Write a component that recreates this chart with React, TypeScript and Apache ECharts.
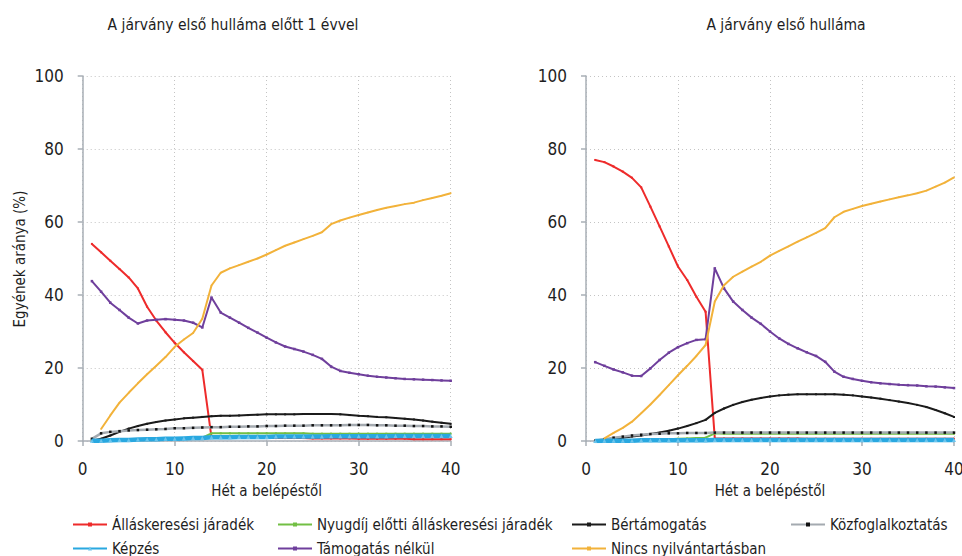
import React, { useEffect, useRef } from "react";
import * as echarts from "echarts";

const FONT = "'Liberation Sans Narrow', 'DejaVu Sans Condensed', sans-serif";

const weeks: number[] = Array.from({ length: 40 }, (_, i) => i + 1);

const seriesNames = [
  "Álláskeresési járadék",
  "Nyugdíj előtti álláskeresési járadék",
  "Bértámogatás",
  "Közfoglalkoztatás",
  "Képzés",
  "Támogatás nélkül",
  "Nincs nyilvántartásban",
];

const panelTitles = ["A járvány első hulláma előtt 1 évvel", "A járvány első hulláma"];
const xTitle = "Hét a belépéstől";
const yTitle = "Egyének aránya (%)";

// ---- Left panel (one year before first wave)
const leftRed = [54.0, 51.7, 49.4, 47.1, 44.8, 41.8, 36.8, 33.0, 29.8, 26.9, 24.3, 21.9, 19.5,
  1.0, 1.0, 0.9, 0.9, 0.9, 0.9, 0.8, 0.8, 0.8, 0.8, 0.8, 0.7, 0.7, 0.7, 0.7, 0.7, 0.6, 0.6, 0.6, 0.6, 0.6, 0.6, 0.5, 0.5, 0.5, 0.5, 0.5];
const leftGreen = [0.0, 0.1, 0.2, 0.3, 0.3, 0.4, 0.5, 0.5, 0.6, 0.7, 0.7, 0.8, 0.9,
  2.1, 2.1, 2.1, 2.1, 2.1, 2.1, 2.1, 2.1, 2.1, 2.1, 2.1, 2.0, 2.0, 2.0, 2.0, 2.0, 2.0, 2.0, 2.0, 2.0, 2.0, 2.0, 2.0, 2.0, 2.0, 2.0, 2.0];
const leftBlack = [0.1, 0.6, 1.5, 2.5, 3.4, 4.1, 4.7, 5.2, 5.6, 5.9, 6.2, 6.4, 6.6, 6.8, 6.9, 6.9, 7.0, 7.1, 7.2, 7.3,
  7.3, 7.3, 7.3, 7.4, 7.4, 7.4, 7.4, 7.3, 7.1, 6.9, 6.8, 6.6, 6.5, 6.3, 6.1, 5.9, 5.6, 5.3, 5.0, 4.7];
const leftGray = [0.6, 2.1, 2.5, 2.7, 2.9, 3.0, 3.1, 3.2, 3.3, 3.5, 3.5, 3.6, 3.7, 3.8, 3.8, 3.9, 3.9, 4.0, 4.0, 4.1,
  4.1, 4.2, 4.2, 4.2, 4.3, 4.3, 4.3, 4.3, 4.4, 4.4, 4.4, 4.3, 4.3, 4.2, 4.2, 4.1, 4.1, 4.0, 4.0, 3.9];
const leftBlue = [0.1, 0.1, 0.2, 0.3, 0.3, 0.4, 0.5, 0.5, 0.6, 0.6, 0.7, 0.8, 0.8, 1.0, 1.0, 1.0, 1.1, 1.1, 1.1, 1.1,
  1.2, 1.2, 1.2, 1.2, 1.2, 1.2, 1.3, 1.3, 1.3, 1.3, 1.3, 1.3, 1.3, 1.4, 1.4, 1.4, 1.4, 1.4, 1.4, 1.4];
const leftPurple = [43.8, 40.9, 37.9, 35.9, 33.8, 32.2, 33.0, 33.2, 33.4, 33.2, 33.0, 32.4, 31.1, 39.3, 35.2, 33.8, 32.4, 31.0, 29.7, 28.3,
  27.0, 25.9, 25.2, 24.5, 23.6, 22.5, 20.4, 19.2, 18.7, 18.3, 17.9, 17.6, 17.4, 17.2, 17.0, 16.9, 16.8, 16.7, 16.6, 16.5];
const leftYellow = [null, 3.3, 7.0, 10.5, 13.2, 15.8, 18.3, 20.6, 23.0, 25.8, 27.8, 29.6, 33.5, 42.6, 46.1, 47.3, 48.2, 49.1, 50.0, 51.1,
  52.3, 53.5, 54.4, 55.3, 56.2, 57.2, 59.4, 60.4, 61.2, 61.9, 62.6, 63.3, 63.9, 64.4, 64.9, 65.3, 66.0, 66.6, 67.2, 67.9];

// ---- Right panel (first wave)
const rightRed = [77.0, 76.4, 75.2, 73.8, 72.1, 69.5, 64.2, 58.8, 53.3, 47.8, 44.1, 39.5, 35.4,
  0.7, 0.7, 0.7, 0.7, 0.7, 0.7, 0.7, 0.7, 0.7, 0.7, 0.6, 0.6, 0.6, 0.6, 0.6, 0.6, 0.6, 0.6, 0.6, 0.6, 0.6, 0.6, 0.6, 0.6, 0.6, 0.6, 0.6];
const rightGreen = [0.0, 0.1, 0.1, 0.2, 0.3, 0.3, 0.4, 0.5, 0.5, 0.6, 0.7, 0.8, 0.9,
  2.1, 2.0, 2.0, 2.0, 2.0, 2.0, 2.0, 2.0, 2.0, 2.0, 2.0, 2.0, 2.0, 2.0, 2.0, 2.0, 2.0, 2.0, 2.0, 2.0, 2.0, 2.0, 2.0, 2.0, 2.0, 2.0, 2.0];
const rightBlack = [0.0, 0.3, 0.6, 0.9, 1.2, 1.5, 1.9, 2.3, 2.8, 3.4, 4.1, 4.9, 5.8, 7.7, 8.9, 9.9, 10.7, 11.3, 11.8, 12.2,
  12.5, 12.7, 12.8, 12.8, 12.8, 12.8, 12.8, 12.7, 12.5, 12.2, 11.9, 11.6, 11.2, 10.8, 10.4, 9.9, 9.3, 8.5, 7.6, 6.6];
const rightGray = [0.1, 0.5, 0.9, 1.2, 1.5, 1.7, 1.9, 2.0, 2.1, 2.1, 2.2, 2.2, 2.2, 2.3, 2.3, 2.3, 2.3, 2.3, 2.3, 2.3,
  2.3, 2.3, 2.3, 2.3, 2.3, 2.3, 2.3, 2.3, 2.3, 2.3, 2.3, 2.3, 2.3, 2.3, 2.3, 2.3, 2.3, 2.3, 2.3, 2.3];
const rightBlue = [0.0, 0.1, 0.1, 0.1, 0.1, 0.2, 0.2, 0.2, 0.2, 0.2, 0.2, 0.2, 0.2, 0.3, 0.3, 0.3, 0.3, 0.3, 0.3, 0.3,
  0.3, 0.3, 0.3, 0.3, 0.3, 0.3, 0.3, 0.3, 0.3, 0.3, 0.3, 0.3, 0.3, 0.3, 0.3, 0.3, 0.3, 0.3, 0.3, 0.3];
const rightPurple = [21.6, 20.6, 19.6, 18.8, 17.9, 17.8, 19.9, 22.2, 24.2, 25.7, 26.8, 27.7, 27.9, 47.3, 41.8, 38.2, 35.9, 33.8, 32.1, 30.0,
  28.1, 26.6, 25.4, 24.3, 23.3, 21.7, 19.0, 17.6, 17.0, 16.5, 16.1, 15.8, 15.6, 15.4, 15.3, 15.2, 15.0, 14.9, 14.7, 14.5];
const rightYellow = [null, 0.7, 2.2, 3.6, 5.3, 7.6, 10.0, 12.6, 15.3, 18.0, 20.6, 23.3, 26.3, 38.2, 42.7, 45.0, 46.4, 47.8, 49.1, 50.8,
  52.1, 53.3, 54.6, 55.8, 57.0, 58.3, 61.3, 62.8, 63.6, 64.4, 65.0, 65.6, 66.2, 66.8, 67.3, 67.9, 68.6, 69.7, 70.8, 72.2];

const leftData = [leftRed, leftGreen, leftBlack, leftGray, leftBlue, leftPurple, leftYellow];
const rightData = [rightRed, rightGreen, rightBlack, rightGray, rightBlue, rightPurple, rightYellow];

const styles = [
  { color: "#ee2b2b", width: 2, symbol: "rect", size: 2, symColor: "#ee2b2b" },
  { color: "#72bf44", width: 2, symbol: "rect", size: 2, symColor: "#72bf44" },
  { color: "#1b1b1b", width: 2, symbol: "rect", size: 2, symColor: "#1b1b1b" },
  { color: "#a4aab0", width: 2.5, symbol: "rect", size: 2.5, symColor: "#111111" },
  { color: "#29a8e0", width: 4.5, symbol: "triangle", size: 4, symColor: "#6cc4ec" },
  { color: "#6f3f9c", width: 2, symbol: "rect", size: 2.5, symColor: "#6f3f9c" },
  { color: "#f2b23a", width: 2, symbol: "rect", size: 1.5, symColor: "#f2b23a" },
];

// legend placement: [series index, left, row]
const legendSlots: [number, number, number][] = [
  [0, 67, 0], [1, 272, 0], [2, 566, 0], [3, 785, 0],
  [4, 67, 1], [5, 272, 1], [6, 566, 1],
];

const TEXT = "#1e1e1e";
const AXIS = "#a9afb6";

function buildOption() {
  const grids = [
    { left: 82.7, top: 76, width: 368, height: 365, outerBoundsMode: "none" },
    { left: 586, top: 76, width: 368, height: 365, outerBoundsMode: "none" },
  ];
  const xAxes = [0, 1].map((g) => ({
    type: "value",
    gridIndex: g,
    min: 0,
    max: 40,
    interval: 10,
    offset: 11,
    axisLine: { show: true, lineStyle: { color: AXIS, width: 1.5 } },
    axisTick: { show: true, length: 5, lineStyle: { color: AXIS, width: 1.5 } },
    axisLabel: { fontSize: 17, color: TEXT, margin: 8, fontFamily: FONT },
    splitLine: { show: true, lineStyle: { type: [1, 3], color: "#c4c4c4", width: 1 } },
  }));
  const yAxes = [0, 1].map((g) => ({
    type: "value",
    gridIndex: g,
    min: 0,
    max: 100,
    interval: 20,
    offset: 12,
    axisLine: { show: true, lineStyle: { color: AXIS, width: 1.5 } },
    axisTick: { show: true, length: 5, lineStyle: { color: AXIS, width: 1.5 } },
    axisLabel: { fontSize: 17, color: TEXT, margin: 7, fontFamily: FONT },
    splitLine: { show: true, lineStyle: { type: [1, 3], color: "#c4c4c4", width: 1 } },
  }));

  const series: any[] = [];
  [leftData, rightData].forEach((panel, g) => {
    panel.forEach((vals, i) => {
      const st = styles[i];
      series.push({
        type: "line",
        name: seriesNames[i],
        xAxisIndex: g,
        yAxisIndex: g,
        data: weeks.map((w, k) => [w, vals[k]]),
        connectNulls: false,
        symbol: st.symbol,
        symbolSize: st.size,
        showSymbol: true,
        itemStyle: { color: st.symColor, borderWidth: 0 },
        lineStyle: { color: st.color, width: st.width },
        color: st.color,
        z: 2 + i,
        emphasis: { disabled: true },
      });
    });
  });

  const rowTop = [512, 536];
  const legends = legendSlots.map(([si, left, row]) => ({
    orient: "horizontal",
    left,
    top: rowTop[row],
    itemWidth: 34,
    itemHeight: 5,
    selectedMode: false,
    data: [seriesNames[si]],
    textStyle: { fontSize: 15, color: TEXT, fontFamily: FONT },
  }));

  const txt = (x: number, y: number, text: string, size: number, extra: any = {}) => ({
    type: "text",
    x,
    y,
    ...extra,
    style: { text, fontSize: size, fontFamily: FONT, fill: TEXT, align: "center", verticalAlign: "middle" },
  });

  const graphic = [
    txt(233, 25, panelTitles[0], 15.5),
    txt(786, 25, panelTitles[1], 15.5),
    txt(266.7, 491, xTitle, 15),
    txt(770, 491, xTitle, 15),
    txt(20, 259, yTitle, 15, { rotation: Math.PI / 2 }),
  ];

  return {
    animation: false,
    backgroundColor: "#ffffff",
    grid: grids,
    xAxis: xAxes,
    yAxis: yAxes,
    legend: legends,
    graphic,
    series,
  };
}

export default function App() {
  const ref = useRef<HTMLDivElement>(null);
  useEffect(() => {
    if (!ref.current) return;
    const chart = echarts.init(ref.current, undefined, { renderer: "svg" });
    chart.setOption(buildOption() as any);
    return () => chart.dispose();
  }, []);
  return (
    <div
      ref={ref}
      style={{ position: "fixed", left: 0, top: 0, width: 962, height: 556, background: "#fff" }}
    />
  );
}
